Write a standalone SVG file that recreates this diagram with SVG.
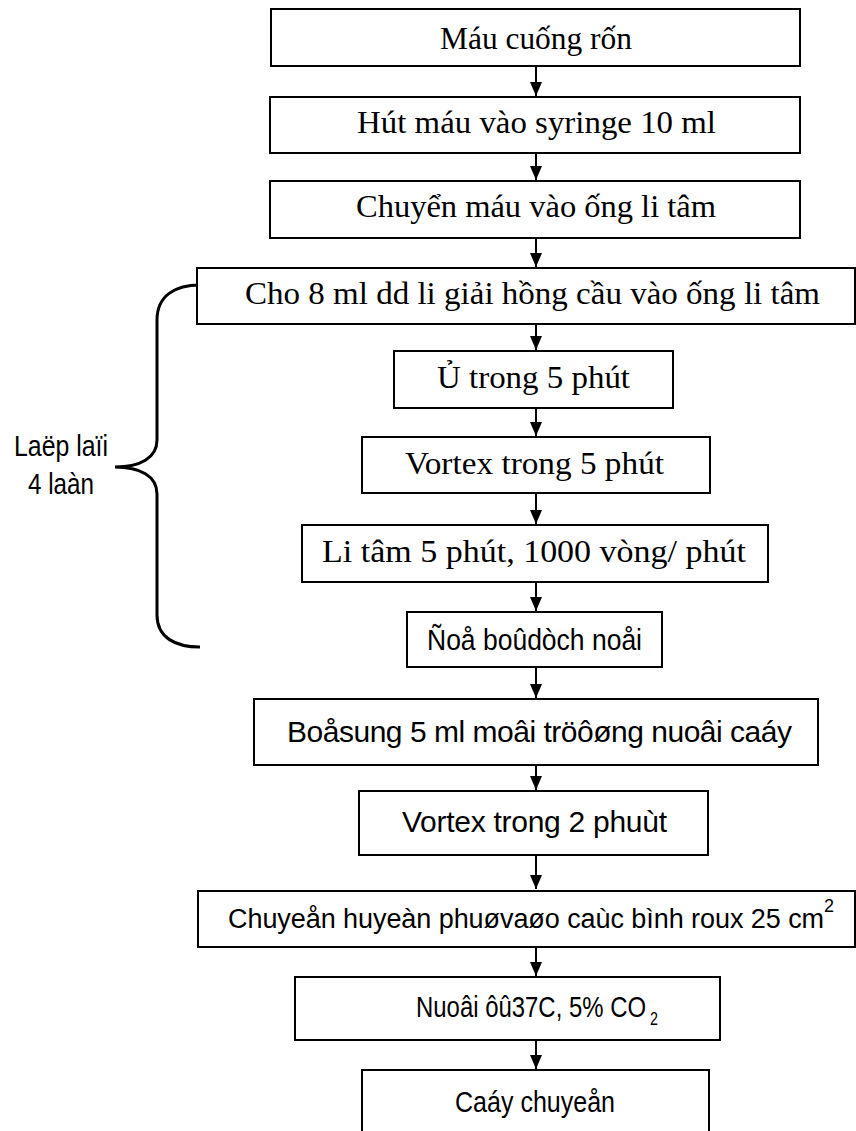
<svg xmlns="http://www.w3.org/2000/svg" width="856" height="1131" viewBox="0 0 856 1131">
<style>
.box{fill:#fff;stroke:#000;stroke-width:2}
.ser{font-family:"Liberation Serif","Times New Roman",serif;font-size:32px;fill:#000}
.san{font-family:"Liberation Sans",Arial,sans-serif;font-size:30px;fill:#000}
.sm{font-size:18px}
.con{stroke:#000;stroke-width:2;fill:none}
</style>
<defs>
<marker id="ah" markerWidth="14" markerHeight="12" refX="14" refY="6" orient="auto" markerUnits="userSpaceOnUse" viewBox="0 0 14 12">
<path d="M0,0 L14,6 L0,12 Z" fill="#000"/>
</marker>
</defs>
<g id="connectors">
<line class="con" x1="536" y1="66" x2="536" y2="96" marker-end="url(#ah)"/>
<line class="con" x1="536" y1="153" x2="536" y2="180" marker-end="url(#ah)"/>
<line class="con" x1="536" y1="238" x2="536" y2="267" marker-end="url(#ah)"/>
<line class="con" x1="536" y1="324" x2="536" y2="350" marker-end="url(#ah)"/>
<line class="con" x1="536" y1="408" x2="536" y2="436" marker-end="url(#ah)"/>
<line class="con" x1="536" y1="493" x2="536" y2="524" marker-end="url(#ah)"/>
<line class="con" x1="536" y1="582" x2="536" y2="611" marker-end="url(#ah)"/>
<line class="con" x1="536" y1="667" x2="536" y2="698" marker-end="url(#ah)"/>
<line class="con" x1="536" y1="765" x2="536" y2="790" marker-end="url(#ah)"/>
<line class="con" x1="536" y1="855" x2="536" y2="889" marker-end="url(#ah)"/>
<line class="con" x1="536" y1="947" x2="536" y2="976" marker-end="url(#ah)"/>
<line class="con" x1="536" y1="1040" x2="536" y2="1069" marker-end="url(#ah)"/>
</g>
<g id="brace">
<path d="M200,285 C176,285 157,295 157,320 L157,440 C157,458 140,467 115,467 C140,467 157,476 157,494 L157,615 C157,638 176,647 200,647" fill="none" stroke="#000" stroke-width="3"/>
<text class="san" x="61" y="456" text-anchor="middle" textLength="94" lengthAdjust="spacingAndGlyphs">Laëp laïi</text>
<text class="san" x="61" y="494" text-anchor="middle" textLength="66" lengthAdjust="spacingAndGlyphs">4 laàn</text>
</g>
<g id="n1"><rect class="box" x="271" y="9" width="529" height="57"/><text class="ser" x="440" y="49" textLength="192" lengthAdjust="spacingAndGlyphs">Máu cuống rốn</text></g>
<g id="n2"><rect class="box" x="270" y="97" width="530" height="56"/><text class="ser" x="357" y="133" textLength="359" lengthAdjust="spacingAndGlyphs">Hút máu vào syringe 10 ml</text></g>
<g id="n3"><rect class="box" x="270" y="181" width="530" height="57"/><text class="ser" x="356" y="217" textLength="360" lengthAdjust="spacingAndGlyphs">Chuyển máu vào ống li tâm</text></g>
<g id="n4"><rect class="box" x="197" y="268" width="658" height="56"/><text class="ser" x="245" y="304" textLength="575" lengthAdjust="spacingAndGlyphs">Cho 8 ml dd li giải hồng cầu vào ống li tâm</text></g>
<g id="n5"><rect class="box" x="394" y="351" width="279" height="57"/><text class="ser" x="437" y="388" textLength="193" lengthAdjust="spacingAndGlyphs">Ủ trong 5 phút</text></g>
<g id="n6"><rect class="box" x="362" y="437" width="348" height="56"/><text class="ser" x="405" y="474" textLength="259" lengthAdjust="spacingAndGlyphs">Vortex trong 5 phút</text></g>
<g id="n7"><rect class="box" x="302" y="525" width="466" height="57"/><text class="ser" x="322" y="562" textLength="424" lengthAdjust="spacingAndGlyphs">Li tâm 5 phút, 1000 vòng/ phút</text></g>
<g id="n8"><rect class="box" x="407" y="612" width="255" height="55"/><text class="san" x="427" y="650" textLength="215" lengthAdjust="spacingAndGlyphs">Ñoå boûdòch noåi</text></g>
<g id="n9"><rect class="box" x="254" y="699" width="564" height="66"/><text class="san" x="287" y="742" textLength="505" lengthAdjust="spacing">Boåsung 5 ml moâi tröôøng nuoâi caáy</text></g>
<g id="n10"><rect class="box" x="359" y="791" width="349" height="64"/><text class="san" x="402" y="832" textLength="265" lengthAdjust="spacing">Vortex trong 2 phuùt</text></g>
<g id="n11"><rect class="box" x="198" y="891" width="657" height="56"/><text class="san" x="228" y="928" style="font-size:27px" textLength="606" lengthAdjust="spacing">Chuyeån huyeàn phuøvaøo caùc bình roux 25 cm<tspan class="sm" dy="-16">2</tspan></text></g>
<g id="n12"><rect class="box" x="295" y="977" width="425" height="63"/><text class="san" x="416" y="1017" textLength="242" lengthAdjust="spacingAndGlyphs">Nuoâi ôû37C, 5% CO<tspan class="sm" dx="5" dy="8">2</tspan></text></g>
<g id="n13"><rect class="box" x="362" y="1070" width="347" height="80"/><text class="san" x="455" y="1112" textLength="160" lengthAdjust="spacingAndGlyphs">Caáy chuyeån</text></g>
</svg>
